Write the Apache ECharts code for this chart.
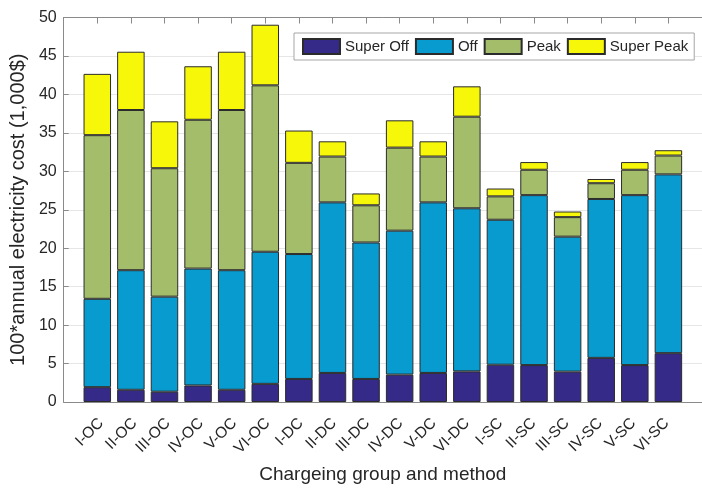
<!DOCTYPE html>
<html>
<head>
<meta charset="utf-8">
<title>Annual electricity cost by charging group and method</title>
<script src="https://cdn.jsdelivr.net/npm/echarts@6/dist/echarts.min.js"></script>
<style>
  html, body { margin: 0; padding: 0; background: #fff; }
  #chart { width: 702px; height: 489px; }
</style>
</head>
<body>
<div id="chart"></div>
<script>
// Charging groups (I–VI) for each method: OC, DC, SC
const categories = [
  'I-OC', 'II-OC', 'III-OC', 'IV-OC', 'V-OC', 'VI-OC',
  'I-DC', 'II-DC', 'III-DC', 'IV-DC', 'V-DC', 'VI-DC',
  'I-SC', 'II-SC', 'III-SC', 'IV-SC', 'V-SC', 'VI-SC'
];

// Cost components per tariff period (stacked bottom to top)
const superOff  = [1.93, 1.59, 1.34, 2.15, 1.59, 2.36, 3.00, 3.78, 3.00, 3.56, 3.78, 3.98, 4.85, 4.80, 3.95, 5.74, 4.80, 6.35];
const off       = [11.49, 15.55, 12.36, 15.20, 15.55, 17.18, 16.24, 22.18, 17.74, 18.72, 22.18, 21.21, 18.85, 22.10, 17.55, 20.66, 22.10, 23.25];
const peak      = [21.28, 20.83, 16.70, 19.35, 20.83, 21.64, 11.86, 5.96, 4.84, 10.80, 5.96, 11.91, 3.04, 3.30, 2.54, 2.05, 3.30, 2.45];
const superPeak = [7.97, 7.58, 6.10, 6.96, 7.58, 7.88, 4.20, 1.98, 1.54, 3.55, 1.98, 3.95, 1.02, 1.00, 0.73, 0.55, 1.00, 0.69];

const seriesNames  = ['Super Off', 'Off', 'Peak', 'Super Peak'];
const seriesValues = [superOff, off, peak, superPeak];
const seriesColors = ['#352a87', '#079bd0', '#a3bd6a', '#f7f70a'];

const FONT = 'Liberation Sans';
const TEXT = '#262626';
const AXIS = '#8a8a8a';

const chart = echarts.init(document.getElementById('chart'), null, { renderer: 'canvas' });

// The x range leaves one empty slot before the first and after the last group
const axisCats = [''].concat(categories, ['']);
const padded = vals => [null].concat(vals, [null]);

const plot = { left: 61.5, top: 17.5, width: 649, height: 389.2 };

chart.setOption({
  animation: false,
  backgroundColor: '#fff',
  textStyle: { fontFamily: FONT, color: TEXT },
  legend: {
    data: seriesNames,
    left: 294,
    top: 33,
    orient: 'horizontal',
    icon: 'rect',
    itemWidth: 37,
    itemHeight: 15,
    itemGap: 6,
    padding: [5, 6, 5, 8],
    borderColor: '#a6a6a6',
    borderWidth: 1,
    backgroundColor: '#ffffff',
    textStyle: { fontFamily: FONT, fontSize: 15, color: TEXT }
  },
  grid: [
    Object.assign({}, plot),
    // label strip, nudged right so rotated labels end just past each tick
    { left: plot.left + 6.5, top: plot.top, width: plot.width, height: plot.height }
  ],
  xAxis: [
    {
      type: 'category', gridIndex: 0, position: 'bottom',
      data: axisCats, boundaryGap: false,
      axisLine: { show: true, lineStyle: { color: AXIS, width: 1 } },
      axisTick: { show: false },
      axisLabel: { show: false },
      splitLine: { show: false },
      name: 'Chargeing group and method',
      nameLocation: 'middle',
      nameGap: 63,
      nameTextStyle: { fontFamily: FONT, fontSize: 19, color: TEXT }
    },
    {
      type: 'category', gridIndex: 0, position: 'top',
      data: axisCats, boundaryGap: false,
      axisLine: { show: true, lineStyle: { color: AXIS, width: 1 } },
      axisTick: { show: true, inside: true, length: 6, interval: 0, lineStyle: { color: AXIS } },
      axisLabel: { show: false },
      splitLine: { show: false }
    },
    {
      type: 'category', gridIndex: 1, position: 'bottom',
      data: axisCats, boundaryGap: false,
      axisLine: { show: false },
      axisTick: { show: false },
      splitLine: { show: false },
      axisLabel: {
        show: true,
        interval: 0,
        rotate: 45,
        margin: 14,
        fontFamily: FONT,
        fontSize: 15.5,
        color: TEXT
      }
    }
  ],
  yAxis: [
    {
      type: 'value', gridIndex: 0,
      min: 0, max: 50, interval: 5,
      axisLine: { show: true, lineStyle: { color: AXIS, width: 1 } },
      axisTick: { show: true, inside: true, length: 5, lineStyle: { color: AXIS } },
      axisLabel: { fontFamily: FONT, fontSize: 16, color: TEXT, margin: 7 },
      splitLine: { show: true, lineStyle: { color: '#e6e6e6', width: 1 } },
      name: '100*annual electricity cost (1,000$)',
      nameLocation: 'middle',
      nameGap: 29,
      nameTextStyle: { fontFamily: FONT, fontSize: 20, color: TEXT }
    },
    {
      type: 'value', gridIndex: 1, min: 0, max: 50, show: false
    }
  ],
  series: seriesNames.map((name, k) => ({
    name: name,
    type: 'bar',
    stack: 'cost',
    xAxisIndex: 0,
    yAxisIndex: 0,
    barWidth: 27.5,
    itemStyle: { color: seriesColors[k], borderColor: '#2b2b2b', borderWidth: 1 },
    emphasis: { disabled: true },
    data: padded(seriesValues[k])
  }))
});
</script>
</body>
</html>
